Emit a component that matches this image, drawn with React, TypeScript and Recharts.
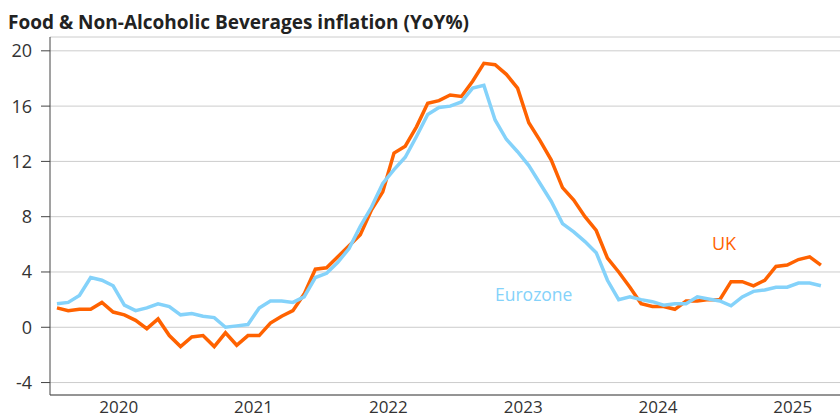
import { LineChart, Line, XAxis, YAxis, CartesianGrid } from "recharts";

// monthly, Jan 2020 .. Sep 2025
const uk = [
  1.4, 1.2, 1.3, 1.3, 1.8, 1.1, 0.9, 0.5, -0.1, 0.6, -0.6, -1.4,
  -0.7, -0.6, -1.4, -0.4, -1.3, -0.6, -0.6, 0.3, 0.8, 1.2, 2.4, 4.2,
  4.3, 5.1, 5.9, 6.7, 8.5, 9.8, 12.6, 13.1, 14.5, 16.2, 16.4, 16.8,
  16.7, 17.8, 19.1, 19.0, 18.3, 17.3, 14.8, 13.5, 12.1, 10.1, 9.2, 8.0,
  7.0, 5.0, 4.0, 2.9, 1.7, 1.5, 1.5, 1.3, 1.9, 1.9, 2.0, 2.0,
  3.3, 3.3, 3.0, 3.4, 4.4, 4.5, 4.9, 5.1, 4.5,
];

const eurozone = [
  1.7, 1.8, 2.3, 3.6, 3.4, 3.0, 1.6, 1.2, 1.4, 1.7, 1.5, 0.9,
  1.0, 0.8, 0.7, 0.0, 0.1, 0.2, 1.4, 1.9, 1.9, 1.8, 2.2, 3.6,
  3.9, 4.7, 5.7, 7.3, 8.7, 10.4, 11.4, 12.3, 13.8, 15.4, 15.9, 16.0,
  16.3, 17.3, 17.5, 15.0, 13.6, 12.7, 11.7, 10.4, 9.1, 7.5, 6.9, 6.2,
  5.4, 3.4, 2.0, 2.2, 2.0, 1.85, 1.6, 1.7, 1.7, 2.2, 2.05, 1.9,
  1.55, 2.2, 2.6, 2.7, 2.9, 2.9, 3.2, 3.2, 3.0,
];

const yearLabels = ["2020", "2021", "2022", "2023", "2024", "2025"];
const yearTicks = [5.5, 17.5, 29.5, 41.5, 53.5, 65.5];
const yTicks = [-4, 0, 4, 8, 12, 16, 20];

const data = uk.map((v, i) => ({ month: i, uk: v, eurozone: eurozone[i] }));

const FONT = "'Open Sans', 'Noto Sans', sans-serif";
const ORANGE = "#FF6200";
const BLUE = "#84D2FA";

const App = () => {
  return (
    <div style={{ position: "absolute", left: 0, top: 0, width: 840, height: 418, fontFamily: FONT }}>
      <div
        style={{
          position: "absolute",
          left: 8,
          top: 9,
          fontSize: 19,
          fontWeight: 700,
          color: "#222",
          whiteSpace: "nowrap",
        }}
      >
        Food &amp; Non-Alcoholic Beverages inflation (YoY%)
      </div>
      <LineChart
        width={840}
        height={418}
        data={data}
        margin={{ top: 37, right: 0, bottom: 0, left: 0 }}
      >
        <CartesianGrid vertical={false} stroke="#cccccc" />
        <XAxis
          dataKey="month"
          type="number"
          domain={[-0.62, 69.7]}
          ticks={yearTicks}
          tickFormatter={(v: number) => yearLabels[yearTicks.indexOf(v)]}
          tickLine={false}
          tickMargin={0}
          axisLine={{ stroke: "#444" }}
          height={23}
          tick={{ fill: "#333", fontSize: 17, fontFamily: FONT }}
          allowDataOverflow
        />
        <YAxis
          type="number"
          domain={[-4.9, 21]}
          ticks={yTicks}
          width={50}
          tickSize={9}
          tickMargin={9}
          tickLine={{ stroke: "#444" }}
          axisLine={{ stroke: "#444" }}
          tick={{ fill: "#333", fontSize: 18, fontFamily: FONT }}
          allowDataOverflow
        />
        <Line
          dataKey="uk"
          stroke={ORANGE}
          strokeWidth={3.5}
          dot={false}
          type="linear"
          isAnimationActive={false}
        />
        <Line
          dataKey="eurozone"
          stroke={BLUE}
          strokeWidth={3.5}
          dot={false}
          type="linear"
          isAnimationActive={false}
        />
      </LineChart>
      <div style={{ position: "absolute", left: 712, top: 231, fontSize: 18, color: ORANGE }}>UK</div>
      <div style={{ position: "absolute", left: 495, top: 282, fontSize: 17.5, color: BLUE }}>Eurozone</div>
    </div>
  );
};

export default App;
